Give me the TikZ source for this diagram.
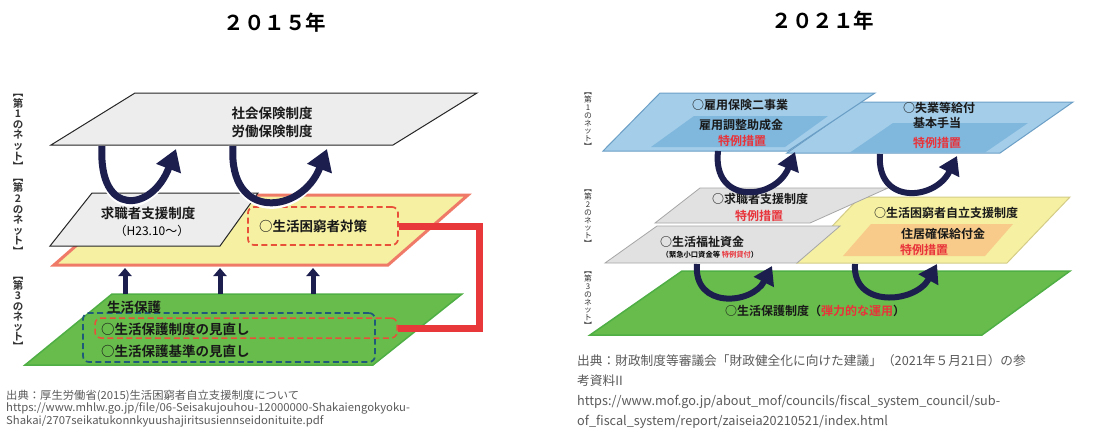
\documentclass[tikz,border=0pt]{standalone}
\usepackage{fontspec}
\setmainfont{Noto Sans CJK JP}[BoldFont={Noto Sans CJK JP Bold}]
\newfontfamily\footjp{Noto Sans CJK JP}[FakeStretch=1.03]
\usetikzlibrary{arrows.meta}
\definecolor{navy}{HTML}{1C1F4E}
\definecolor{plategray}{HTML}{EDEDED}
\definecolor{yelfill}{HTML}{F5F0A2}
\definecolor{yeledge}{HTML}{F07A68}
\definecolor{grnfill}{HTML}{68BC4C}
\definecolor{grnedge}{HTML}{4FAF45}
\definecolor{dred}{HTML}{E8503A}
\definecolor{dblue}{HTML}{1F5A7A}
\definecolor{redline}{HTML}{E8383A}
\definecolor{bluefill}{HTML}{A3CDE9}
\definecolor{blueedge}{HTML}{6C9FC6}
\definecolor{bluein}{HTML}{80B7DD}
\definecolor{yel2edge}{HTML}{D4CC86}
\definecolor{orangein}{HTML}{F8CB8A}
\definecolor{txtred}{HTML}{E8333A}
\definecolor{foot}{HTML}{5A5A5A}
\tikzset{
  grayplate/.style={fill=plategray, draw=black!85, line width=1},
  grayplatetwo/.style={fill=plategray!95!black, draw=black!35, line width=0.8},
  yelplate/.style={fill=yelfill, draw=yeledge, line width=3, line join=miter},
  yelplatetwo/.style={fill=yelfill, draw=yel2edge, line width=1},
  grnplate/.style={fill=grnfill, draw=grnedge, line width=1.5},
  blueplate/.style={fill=bluefill, draw=blueedge, line width=1},
  lbl/.style={font=\bfseries\fontsize{13.5}{18}\selectfont, inner sep=0, align=center, text=black!90},
  rlbl/.style={font=\bfseries\fontsize{12}{15}\selectfont, inner sep=0, align=center, text=black!90},
  redlbl/.style={rlbl, text=txtred},
  dashbox/.style={draw=#1, dash pattern=on 6pt off 3.5pt, line width=1.7, rounded corners=6, inner sep=0, minimum width=0, minimum height=0},
  curvarrow/.style={draw=navy, line width=#1, -{Triangle[width=3.6*#1, length=3*#1]}},
  uparrow/.style={draw=navy, line width=5, -{Triangle[width=13pt, length=8pt]}},
  redconn/.style={draw=redline, line width=7, line join=miter},
  sidelab/.style={inner sep=0, align=center, text=black!80},
  title/.style={font=\bfseries\fontsize{20.5}{22}\selectfont, inner sep=0},
  footer/.style={inner sep=0, align=left, text=foot, anchor=north west}
}
\begin{document}
\begin{tikzpicture}[x=1pt,y=-1pt]
\fill[white] (0,0) rectangle (1105,432);
\useasboundingbox (0,0) rectangle (1105,432);

% ---------------- titles ----------------
\node[title] (t2015) at (275,23) {２０１５年};
\node[title] (t2021) at (823,21) {２０２１年};

% ================= LEFT PANEL =================
% side label
\node[sidelab, anchor=north, font=\bfseries\fontsize{10.5}{10.6}\selectfont] (lside1) at (18,94)
  {︻\\第\\1\\の\\ネ\\ッ\\ト\\︼\\︻\\第\\2\\の\\ネ\\ッ\\ト\\︼};
\node[sidelab, anchor=north, font=\bfseries\fontsize{10.5}{10.2}\selectfont] (lside3) at (18,277)
  {︻\\第\\3\\の\\ネ\\ッ\\ト\\︼};

% second net plate (yellow)
\draw[yelplate] (54,265) -- (388,265) -- (468,195) -- (134,195) -- cycle;
% job seeker plate
\draw[grayplate] (50,246) -- (220,246) -- (258,193) -- (92,193) -- cycle;
% third net plate (green)
\draw[grnplate] (25,365) -- (373,365) -- (462,294) -- (112,294) -- cycle;
% first net plate
\draw[grayplate] (51,145) -- (393,145) -- (477,93) -- (135,93) -- cycle;

\node[lbl] (shakai) at (272,122) {社会保険制度\\労働保険制度};
\node[lbl] (kyushoku) at (148,213) {求職者支援制度};
\node[inner sep=0, font=\fontsize{12}{14}\selectfont] (h23) at (152,231) {（H23.10～）};

\node[dashbox=dred, minimum width=150, minimum height=38] (konkyubox) at (323,226) {};
\node[lbl, anchor=west] (konkyu) at (259,226) {○生活困窮者対策};

\node[dashbox=dblue, minimum width=292, minimum height=49] (kijunbox) at (229,337.5) {};
\node[dashbox=dred, minimum width=302, minimum height=20, line width=1.5] (seidobox) at (246,328) {};
\node[lbl] (seiho) at (134,307) {生活保護};
\node[lbl, anchor=west] (seido) at (101,329) {○生活保護制度の見直し};
\node[lbl, anchor=west] (kijun) at (101,351) {○生活保護基準の見直し};

% red connector
\draw[redconn] (konkyubox.east) -- ++(81,0) |- (seidobox.east);

% up arrows
\coordinate (u1s) at (125,294); \coordinate (u1e) at (125,268);
\coordinate (u2s) at (220,294); \coordinate (u2e) at (220,268);
\coordinate (u3s) at (313,294); \coordinate (u3e) at (313,268);
\draw[uparrow] (u1s) -- (u1e);
\draw[uparrow] (u2s) -- (u2e);
\draw[uparrow] (u3s) -- (u3e);

% curved arrows (left)
\coordinate (c1s) at (102,146); \coordinate (c1e) at (176,149);
\coordinate (c2s) at (233,146); \coordinate (c2e) at (327,149);
\draw[white, line width=9] (c1s) .. controls (98,218) and (150,214) .. (166,172);
\draw[curvarrow=7] (c1s) .. controls (98,218) and (152,212) .. (c1e);
\draw[white, line width=9] (c2s) .. controls (228,222) and (300,216) .. (316,172);
\draw[curvarrow=7] (c2s) .. controls (228,222) and (302,214) .. (c2e);

% footer left
\node[footer, font=\footjp\fontsize{11}{10.3}\selectfont] (foot1) at (6,390)
  {出典：厚生労働省(2015)生活困窮者自立支援制度について\\
   https://www.mhlw.go.jp/file/06-Seisakujouhou-12000000-Shakaiengokyoku-\\
   Shakai/2707seikatukonnkyuushajiritsusiennseidonituite.pdf};

% ================= RIGHT PANEL =================
\node[sidelab, anchor=north, font=\fontsize{7.8}{7.8}\selectfont] (rside1) at (588,93)
  {︻\\第\\1\\の\\ネ\\ッ\\ト\\︼};
\node[sidelab, anchor=north, font=\fontsize{7.8}{7.8}\selectfont] (rside2) at (588,190)
  {︻\\第\\2\\の\\ネ\\ッ\\ト\\︼};
\node[sidelab, anchor=north, font=\fontsize{7.8}{7.8}\selectfont] (rside3) at (588,272)
  {︻\\第\\3\\の\\ネ\\ッ\\ト\\︼};

% first net plates (blue)
\draw[blueplate] (787,153) -- (1000,153) -- (1073,102) -- (860,102) -- cycle;
\fill[bluein] (850,152.5) -- (985,152.5) -- (1028,123) -- (893,123) -- cycle;
\draw[blueplate] (603,151) -- (788,151) -- (875,93) -- (660,93) -- cycle;
\fill[bluein] (651,147) -- (785,147) -- (828,116) -- (694,116) -- cycle;

\node[rlbl] (koyo) at (740,105) {○雇用保険二事業};
\node[rlbl] (chosei) at (741,125) {雇用調整助成金};
\node[redlbl] (tokurei1) at (742,141) {特例措置};
\node[rlbl] (shitsugyo) at (939,108) {○失業等給付};
\node[rlbl] (kihon) at (937,123) {基本手当};
\node[redlbl] (tokurei2) at (937,143) {特例措置};

% second net plates
\draw[yelplatetwo] (797,263) -- (1007,263) -- (1070,197) -- (860,197) -- cycle;
\fill[orangein] (843,256) -- (985,256) -- (1013,224) -- (871,224) -- cycle;
\draw[grayplatetwo] (655,223) -- (810,223) -- (888,188) -- (700,188) -- cycle;
\draw[grayplatetwo] (605,263) -- (797,263) -- (840,226) -- (657,226) -- cycle;

\node[rlbl] (kyushoku2) at (760,199) {○求職者支援制度};
\node[redlbl] (tokurei3) at (759,216) {特例措置};
\node[rlbl] (fukushi) at (702,242) {○生活福祉資金};
\node[inner sep=0, font=\bfseries\fontsize{7.3}{8}\selectfont] (kinkyu) at (710,255)
  {（緊急小口資金等 \textcolor{txtred}{特例貸付}）};
\node[rlbl] (jiritsu) at (946,213) {○生活困窮者自立支援制度};
\node[rlbl] (jukyo) at (943,234) {住居確保給付金};
\node[redlbl] (tokurei4) at (924,250) {特例措置};

% third net plate
\draw[grnplate] (590,335) -- (982,335) -- (1070,271) -- (682,271) -- cycle;
\node[rlbl] (seiho2) at (815,311) {○生活保護制度（\textcolor{txtred}{弾力的な運用}）};

% curved arrows (right)
\coordinate (r1s) at (718,151); \coordinate (r1e) at (795,152);
\coordinate (r2s) at (880,154); \coordinate (r2e) at (957,156);
\coordinate (r3s) at (697,264); \coordinate (r3e) at (772,266);
\coordinate (r4s) at (855,264); \coordinate (r4e) at (937,264);
\draw[curvarrow=6] (r1s) .. controls (712,205) and (775,201) .. (r1e);
\draw[curvarrow=6] (r2s) .. controls (876,205) and (935,201) .. (r2e);
\draw[curvarrow=6] (r3s) .. controls (693,309) and (752,305) .. (r3e);
\draw[curvarrow=6] (r4s) .. controls (852,308) and (915,304) .. (r4e);

% footer right
\node[footer, font=\fontsize{12.7}{20}\selectfont] (foot2) at (577,354)
  {出典：財政制度等審議会「財政健全化に向けた建議」（2021年５月21日）の参\\
   考資料II\\
   https://www.mof.go.jp/about\_mof/councils/fiscal\_system\_council/sub-\\
   of\_fiscal\_system/report/zaiseia20210521/index.html};
\end{tikzpicture}
\end{document}
